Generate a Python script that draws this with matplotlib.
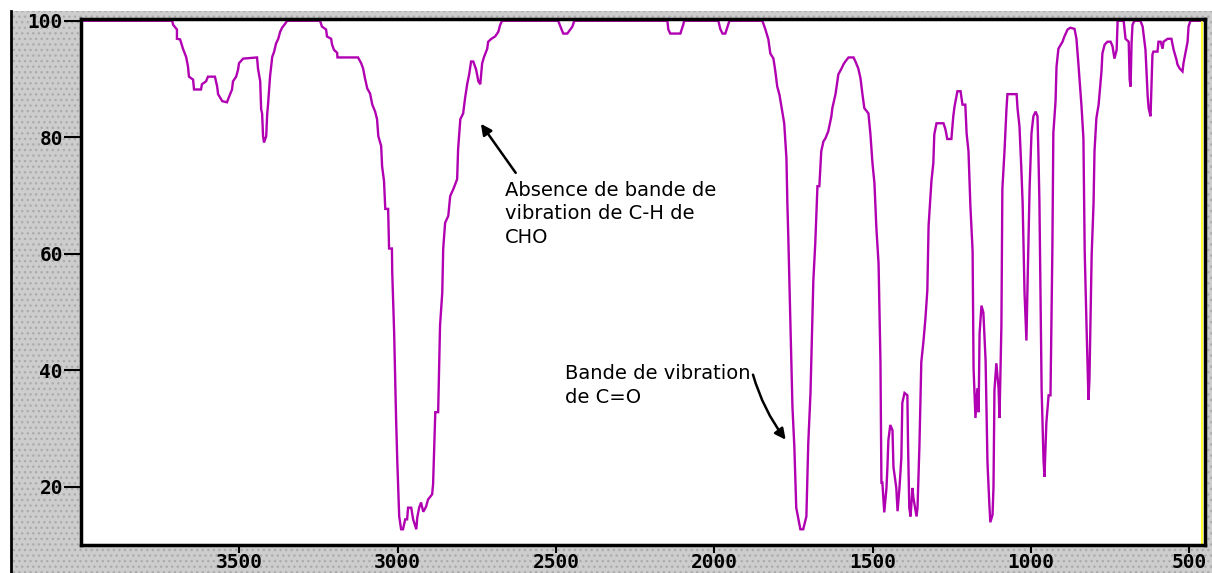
import numpy as np
import matplotlib
matplotlib.use("Agg")
import matplotlib.pyplot as plt
from matplotlib.patches import Rectangle
from matplotlib.lines import Line2D

# IR spectrum: wavenumber (cm-1) and transmittance (%)
wavenumber = [4000, 3712, 3709, 3697, 3697, 3687, 3678, 3668, 3662, 3659, 3646, 3643, 3621, 3618, 3605,
              3599, 3577, 3570, 3567, 3554, 3539, 3532, 3523, 3520, 3510, 3504, 3501, 3488, 3444,
              3441, 3434, 3431, 3428, 3425, 3422, 3415, 3412, 3409, 3403, 3396, 3390, 3384, 3377,
              3371, 3365, 3355, 3349, 3245, 3239, 3226, 3223, 3210, 3207, 3201, 3191, 3190, 3125,
              3115, 3109, 3103, 3096, 3087, 3080, 3071, 3065, 3061, 3052, 3049, 3043, 3039, 3030,
              3027, 3018, 3017, 3011, 3005, 3001, 2995, 2989, 2983, 2976, 2970, 2967, 2957, 2951,
              2941, 2938, 2932, 2926, 2919, 2910, 2904, 2891, 2888, 2881, 2872, 2866, 2859, 2856,
              2850, 2840, 2834, 2824, 2812, 2809, 2802, 2793, 2787, 2780, 2774, 2768, 2761, 2752,
              2745, 2739, 2733, 2727, 2717, 2714, 2704, 2692, 2682, 2676, 2670, 2493, 2483, 2477,
              2464, 2448, 2442, 2148, 2145, 2139, 2107, 2098, 2095, 1987, 1981, 1974, 1965, 1956,
              1952, 1848, 1839, 1832, 1829, 1823, 1813, 1807, 1801, 1794, 1785, 1779, 1772, 1769,
              1766, 1760, 1753, 1747, 1741, 1734, 1728, 1719, 1709, 1703, 1696, 1690, 1687, 1681,
              1674, 1668, 1662, 1655, 1649, 1640, 1630, 1627, 1617, 1611, 1608, 1598, 1592, 1586,
              1576, 1560, 1554, 1545, 1538, 1532, 1526, 1513, 1507, 1500, 1494, 1488, 1481, 1475,
              1472, 1469, 1463, 1456, 1453, 1450, 1444, 1437, 1434, 1425, 1421, 1415, 1409, 1406,
              1399, 1390, 1388, 1384, 1380, 1374, 1371, 1361, 1358, 1352, 1346, 1339, 1333, 1327,
              1323, 1314, 1308, 1305, 1298, 1276, 1270, 1264, 1251, 1245, 1241, 1232, 1222, 1216,
              1207, 1203, 1197, 1191, 1184, 1181, 1175, 1169, 1165, 1162, 1156, 1150, 1143, 1137,
              1131, 1128, 1121, 1118, 1115, 1109, 1102, 1099, 1093, 1090, 1083, 1077, 1074, 1045,
              1042, 1036, 1030, 1026, 1020, 1014, 1011, 1004, 998, 992, 985, 979, 976, 973,
              966, 960, 957, 951, 944, 938, 932, 929, 922, 919, 913, 900, 894, 884,
              875, 862, 856, 850, 840, 834, 830, 824, 818, 815, 808, 802, 799, 793,
              786, 777, 774, 767, 758, 748, 742, 736, 729, 726, 707, 701, 691, 688,
              685, 682, 679, 673, 654, 647, 638, 631, 628, 622, 619, 616, 613, 600,
              597, 590, 584, 581, 568, 556, 549, 540, 537, 530, 521, 518, 511, 505,
              502, 496, 455]
transmittance = [100, 100, 99.3, 98.5, 96.9, 96.8, 95.2, 93.8, 92.1, 90.4, 89.9, 88.2, 88.2, 89.1, 89.6,
                 90.4, 90.4, 88.7, 87.4, 86.2, 86.0, 87.0, 88.2, 89.6, 90.4, 91.6, 92.7, 93.5, 93.7,
                 91.8, 89.6, 84.8, 84.1, 80.2, 79.1, 80.2, 83.9, 85.8, 90.4, 93.8, 94.7, 96.1, 96.9,
                 98.1, 98.8, 99.5, 100, 100, 99.0, 98.5, 97.3, 96.9, 95.9, 95.0, 94.5, 93.7, 93.7,
                 92.7, 91.8, 90.1, 88.4, 87.5, 85.6, 84.4, 83.1, 80.2, 78.5, 75.0, 72.5, 67.7, 67.7,
                 60.9, 60.9, 56.8, 46.5, 32.0, 24.3, 14.9, 12.7, 12.7, 14.4, 14.4, 16.4, 16.4, 14.4,
                 12.7, 14.7, 16.4, 17.3, 15.7, 16.6, 17.8, 18.7, 20.4, 32.8, 32.8, 47.7, 53.3, 60.9,
                 65.3, 66.5, 69.9, 71.1, 72.8, 77.9, 83.1, 84.1, 86.7, 89.2, 90.8, 93.0, 93.0, 91.6,
                 89.6, 89.1, 92.7, 93.8, 95.2, 96.4, 96.9, 97.3, 98.1, 99.3, 100, 100, 98.6, 97.8,
                 97.8, 99.0, 100, 100, 98.5, 97.8, 97.8, 99.3, 100, 100, 98.6, 97.8, 97.8, 99.3,
                 100, 100, 98.6, 97.3, 96.8, 94.4, 93.5, 91.3, 88.7, 87.3, 84.4, 82.4, 76.4, 68.6,
                 62.7, 49.1, 33.7, 26.9, 16.4, 14.4, 12.7, 12.7, 14.9, 27.5, 36.1, 48.6, 55.4, 61.7,
                 71.6, 71.6, 77.6, 79.3, 79.8, 81.0, 83.6, 85.0, 87.4, 89.6, 90.8, 91.8, 92.5, 93.0,
                 93.7, 93.7, 93.0, 91.8, 90.1, 87.4, 85.0, 84.1, 80.7, 75.4, 72.1, 64.5, 58.3, 41.4,
                 20.7, 20.7, 15.6, 19.8, 23.4, 28.0, 30.6, 29.7, 23.4, 19.8, 15.8, 19.8, 25.0, 34.4,
                 36.1, 35.7, 27.5, 16.4, 14.9, 19.8, 18.1, 14.9, 16.4, 26.9, 41.4, 45.1, 48.9, 53.7,
                 64.8, 72.5, 75.6, 80.5, 82.4, 82.4, 81.4, 79.7, 79.7, 83.6, 85.3, 87.9, 87.9, 85.6,
                 85.6, 80.7, 77.6, 68.2, 60.5, 40.4, 31.8, 36.9, 32.8, 46.3, 51.1, 49.9, 41.7, 24.1,
                 16.9, 13.9, 15.2, 20.0, 36.6, 41.2, 36.9, 31.8, 47.7, 71.1, 77.9, 84.9, 87.4, 87.4,
                 84.9, 81.9, 74.5, 68.7, 53.3, 45.1, 53.3, 71.3, 80.7, 83.6, 84.4, 83.6, 76.8, 69.1,
                 36.6, 24.6, 21.7, 31.0, 35.7, 35.7, 61.0, 80.7, 86.2, 92.1, 95.2, 96.4, 97.3, 98.5,
                 98.8, 98.6, 96.9, 92.7, 85.3, 79.8, 60.5, 47.2, 34.9, 38.3, 59.7, 68.7, 77.6, 83.3,
                 85.6, 91.3, 94.4, 95.9, 96.4, 96.4, 95.6, 93.5, 95.0, 100, 100, 96.9, 96.4, 89.9,
                 88.7, 96.1, 99.3, 100, 100, 99.0, 95.0, 87.0, 85.0, 83.6, 88.7, 94.2, 94.7, 94.7,
                 96.4, 96.4, 95.2, 96.4, 96.9, 96.9, 95.0, 93.3, 92.5, 91.8, 91.3, 92.7, 94.7, 96.4,
                 99.0, 100, 100]

x_ticks = [3500, 3000, 2500, 2000, 1500, 1000, 500]
y_ticks = [20, 40, 60, 80, 100]

note_ch = "Absence de bande de\nvibration de C-H de\nCHO"
note_co = "Bande de vibration\nde C=O"

W, H = 1212, 573
fig = plt.figure(figsize=(W / 100, H / 100), dpi=100)
fig.patch.set_facecolor("white")

# grey dotted frame around the plot
plt.rcParams["hatch.linewidth"] = 1.0
bg = Rectangle((11 / W, 0), 1 - 11 / W, 1 - 11 / H, transform=fig.transFigure,
               facecolor="#cdcdcd", edgecolor="#acacac", hatch="...", linewidth=0, zorder=-10)
fig.patches.append(bg)
fig.lines.append(Line2D([11 / W, 11 / W], [0, 1 - 11 / H], transform=fig.transFigure,
                        color="black", lw=2))

ax = fig.add_axes([81 / W, 28 / H, 1124 / W, 526 / H])
ax.set_facecolor("white")
ax.plot(wavenumber, transmittance, color="#b100b1", lw=1.7, solid_joinstyle="miter")

ax.set_xlim(4000, 450)
ax.set_ylim(10, 100.3)
ax.set_xticks(x_ticks)
ax.set_yticks(y_ticks)

tick_font = dict(family="DejaVu Sans Mono", weight="bold", size=14)
ax.set_xticklabels([str(t) for t in x_ticks], **tick_font)
ax.set_yticklabels([str(t) for t in y_ticks], **tick_font)
ax.tick_params(axis="y", direction="out", length=12, width=1.5, pad=1)
ax.tick_params(axis="x", direction="out", length=6, width=1.5, pad=0)

for s in ax.spines.values():
    s.set_linewidth(2.5)
    s.set_color("black")

# yellow line inside the right border
ax.plot([0.997, 0.997], [0, 1], transform=ax.transAxes, color="#ffff30", lw=1.5)

txt = dict(family="DejaVu Sans", size=14, color="black", linespacing=1.3)
ax.text(2660, 72.5, note_ch, ha="left", va="top", **txt)
ax.text(2471, 41.0, note_co, ha="left", va="top", **txt)

ax.annotate("", xy=(2742, 82.7), xytext=(2622, 73.5),
            arrowprops=dict(arrowstyle="-|>", color="black", lw=1.8,
                            mutation_scale=16, connectionstyle="arc3,rad=0"))
ax.annotate("", xy=(1769, 27.7), xytext=(1880, 39.7),
            arrowprops=dict(arrowstyle="-|>", color="black", lw=1.8,
                            mutation_scale=16, connectionstyle="arc3,rad=0.1"))

fig.savefig("out.png", dpi=100)
